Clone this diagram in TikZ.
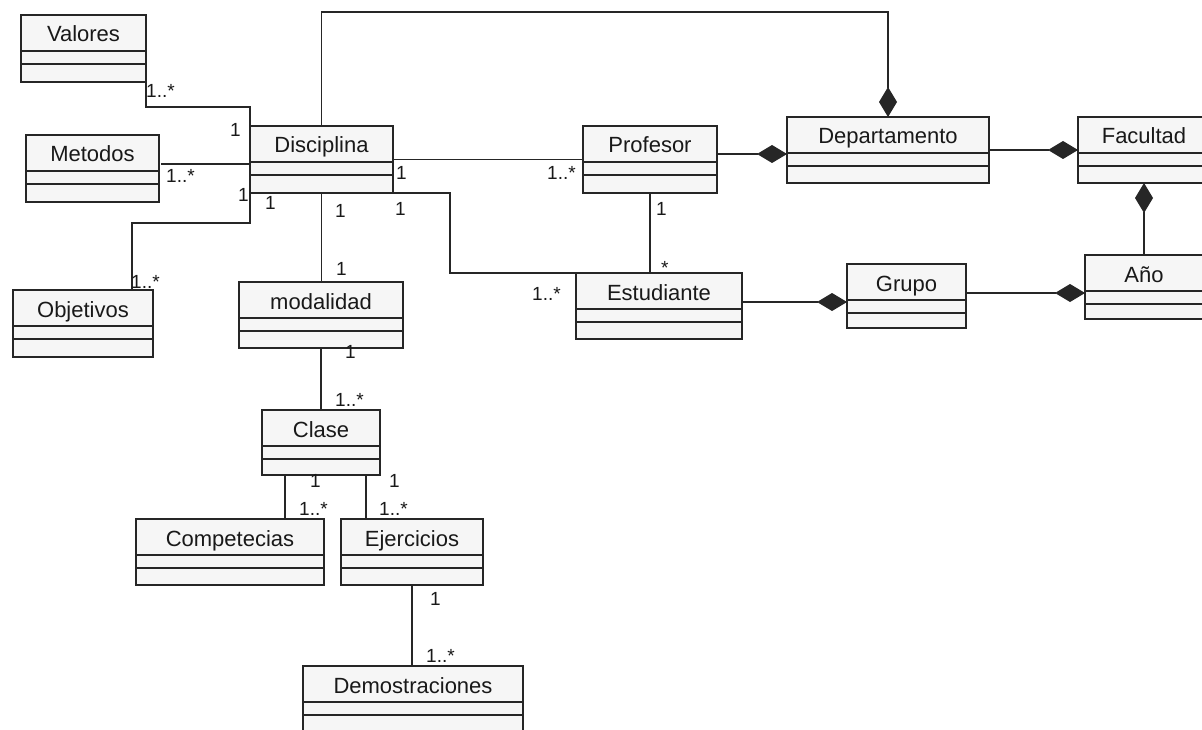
\documentclass[tikz,border=0pt]{standalone}
\usepackage{fontspec}
\setmainfont{Liberation Sans}
\usetikzlibrary{calc,arrows.meta}
\tikzset{
 cls/.style={draw=black!85, line width=1.5pt, fill=gray!7, inner sep=0pt, outer sep=0pt, anchor=north west},
 clsname/.style={anchor=base, font=\fontsize{22}{22}\selectfont, inner sep=0pt, text=black!90},
 mult/.style={anchor=base west, font=\fontsize{19}{19}\selectfont, inner sep=0pt, text=black!90},
 conn/.style={draw=black!85, line width=1.5pt},
 comp/.style={conn, -{Diamond[length=30pt,width=18pt]}},
}
\newcommand{\umlclass}[6]{%
  \node[cls, minimum width=#4pt, minimum height=#5pt] (#1) at (#2,#3) {};
  \node[clsname] (#1-t) at ($(#1.north)+(0,-27pt)$) {#6};
  \draw[conn] ($(#1.north west)+(0,-36pt)$) -- ($(#1.north east)+(0,-36pt)$);
  \draw[conn] ($(#1.north west)+(0,-49pt)$) -- ($(#1.north east)+(0,-49pt)$);
}
\begin{document}
\begin{tikzpicture}[x=1pt,y=-1pt]
\fill[white] (0,0) rectangle (1202,730);
\useasboundingbox (0,0) rectangle (1202,730);
\clip (0,0) rectangle (1202,730);

\umlclass{val}{21}{15}{125}{67}{Valores}
\umlclass{met}{26}{135}{133}{67}{Metodos}
\umlclass{disc}{250}{126}{143}{67}{Disciplina}
\umlclass{obj}{13}{290}{140}{67}{Objetivos}
\umlclass{mod}{239}{282}{164}{66}{modalidad}
\umlclass{prof}{583}{126}{134}{67}{Profesor}
\umlclass{est}{576}{273}{166}{66}{Estudiante}
\umlclass{dept}{787}{117}{202}{66}{Departamento}
\umlclass{fac}{1078}{117}{132}{66}{Facultad}
\umlclass{ano}{1085}{255}{118}{64}{Año}
\umlclass{grupo}{847}{264}{119}{64}{Grupo}
\umlclass{clase}{262}{410}{118}{65}{Clase}
\umlclass{comp}{136}{519}{188}{66}{Competecias}
\umlclass{ejer}{341}{519}{142}{66}{Ejercicios}
\umlclass{demo}{303}{666}{220}{66}{Demostraciones}

% connectors
\draw[conn] (val.south east) -- ++(0,-25pt) -| (disc.north west);
\coordinate (m1) at ($(met.north east)+(2pt,-29pt)$);
\draw[conn] (m1) -- (m1 -| disc.west);
\draw[conn] (disc.south west) -- ++(0,-30pt) -| ($(obj.north west)+(119pt,0)$);
\draw[conn] (disc.south) -- (disc.south |- mod.north);
\draw[comp] (disc.north) -- ++(0,114pt) -| (dept.north);
\draw[conn] (disc.east) -- (prof.west);
\draw[conn] (disc.south east) -- ++(57pt,0) |- (est.north west);
\draw[conn] (prof.south) -- (prof.south |- est.north);
\coordinate (p1) at ($(prof.north east)+(0,-28pt)$);
\draw[comp] (p1) -- (p1 -| dept.west);
\draw[comp] (dept.east) -- (fac.west);
\draw[comp] (ano.north) -- (fac.south);
\coordinate (e1) at ($(est.north east)+(0,-29pt)$);
\draw[comp] (e1) -- (e1 -| grupo.west);
\coordinate (g1) at ($(grupo.north east)+(0,-29pt)$);
\draw[comp] (g1) -- (g1 -| ano.west);
\draw[conn] (mod.south) -- (mod.south |- clase.north);
\coordinate (c1) at ($(clase.south west)+(23pt,0)$);
\draw[conn] (c1) -- (c1 |- comp.north);
\coordinate (c2) at ($(clase.south west)+(104pt,0)$);
\draw[conn] (c2) -- (c2 |- ejer.north);
\draw[conn] (ejer.south) -- (ejer.south |- demo.north);

% multiplicities
\node[mult] (n1) at (146,98) {1..*};
\node[mult] (n2) at (230,137) {1};
\node[mult] (n3) at (166,183) {1..*};
\node[mult] (n4) at (238,202) {1};
\node[mult] (n5) at (265,210) {1};
\node[mult] (n6) at (335,218) {1};
\node[mult] (n7) at (336,275) {1};
\node[mult] (n8) at (131,288) {1..*};
\node[mult] (n9) at (345,358) {1};
\node[mult] (n10) at (396,180) {1};
\node[mult] (n11) at (395,215) {1};
\node[mult] (n12) at (547,180) {1..*};
\node[mult] (n13) at (656,215) {1};
\node[mult] (n14) at (661,274) {*};
\node[mult] (n15) at (532,300) {1..*};
\node[mult] (n16) at (335,406) {1..*};
\node[mult] (n17) at (310,487) {1};
\node[mult] (n18) at (299,515) {1..*};
\node[mult] (n19) at (389,487) {1};
\node[mult] (n20) at (379,515) {1..*};
\node[mult] (n21) at (430,605) {1};
\node[mult] (n22) at (426,662) {1..*};
\end{tikzpicture}
\end{document}
